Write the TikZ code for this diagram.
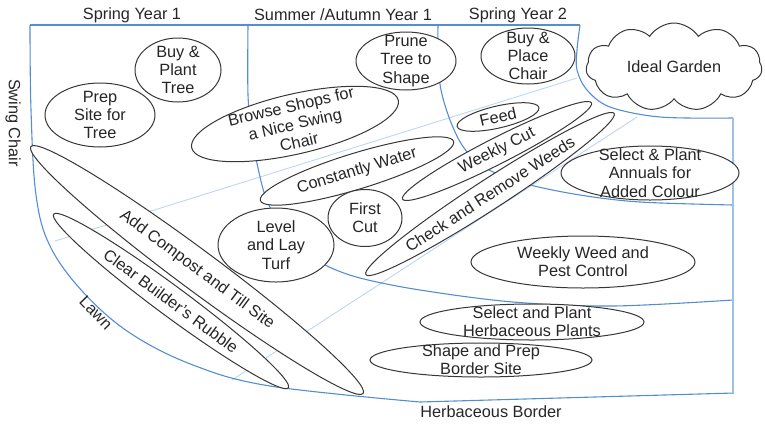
\documentclass[tikz,border=0pt]{standalone}
\usepackage{fontspec}
\setmainfont{Liberation Sans}
\usetikzlibrary{shapes.symbols}
\definecolor{zoneblue}{RGB}{84,141,212}
\definecolor{rayblue}{RGB}{190,214,240}
\definecolor{podgray}{RGB}{55,55,55}
\newcommand{\gfont}{\fontsize{16.3}{18.3}\selectfont}
\tikzset{
  zone/.style={draw=zoneblue, line width=1.1pt},
  ray/.style={draw=rayblue, line width=0.9pt},
  pod/.style={draw=podgray, fill=white, line width=1pt},
  lbl/.style={font=\gfont, align=center, inner sep=0pt, text=black!85}
}

\begin{document}
\begin{tikzpicture}[x=1pt, y=-1pt]
  \useasboundingbox (0,0) rectangle (765,424);
  % light rays
  \draw[ray] (55,241) -- (577,78);
  \draw[ray] (232,380) -- (637,117);
  % zone borders
  \draw[zone] (30,25) -- (580,25);
  \draw[zone] plot[smooth, tension=0.6] coordinates {(30,25) (31,110) (36,195) (50,246) (83,292) (130,333) (193,365) (270,386) (420,402)} -- (734,393);
  \draw[zone] plot[smooth, tension=0.55] coordinates {(248,25) (248,95) (252,135) (258,168) (266,198) (280,225) (300,248) (325,265) (360,278) (420,290) (513,302) (613,306) (733,300)};
  \draw[zone] plot[smooth, tension=0.55] coordinates {(438,25) (438,60) (441,90) (450,120) (462,145) (478,163) (500,175) (530,185) (580,195) (640,202) (733,205)};
  \draw[zone] plot[smooth, tension=0.55] coordinates {(580,25) (577,50) (577,70) (587,90) (610,107) (660,117) (733,118)};
  \draw[zone, draw=zoneblue!55] (733,118) -- (733,393);

  % headings
  \node[lbl] (spring1) at (132,15) {Spring Year 1};
  \node[lbl] (summer1) at (343,15) {Summer /Autumn Year 1};
  \node[lbl] (spring2) at (518,15) {Spring Year 2};
  \node[lbl, rotate=-90] (swing) at (13,123) {Swing Chair};
  \node[lbl, rotate=-46] (lawn) at (96,313) {Lawn};
  \node[lbl] (border) at (491,412) {Herbaceous Border};

  % spring year 1
  \draw[pod] (178,70) ellipse [x radius=43, y radius=32]
    node[lbl] (buytree) {Buy \&\\Plant\\Tree};
  \draw[pod] (100,115) ellipse [x radius=55, y radius=32]
    node[lbl] (prepsite) {Prep\\Site for\\Tree};
  \draw[pod, rotate around={-36.6:(197,270)}] (197,270) ellipse [x radius=207, y radius=20]
    node[lbl, rotate=-36.6] (compost) {Add Compost and Till Site};
  \draw[pod, rotate around={-36.5:(171,301)}] (171,301) ellipse [x radius=146, y radius=15]
    node[lbl, rotate=-36.5] (rubble) {Clear Builder's Rubble};

  % summer / autumn year 1
  \draw[pod, rotate around={13:(295,124)}] (295,124) ellipse [x radius=106, y radius=30]
    node[lbl, rotate=13] (browse) {Browse Shops for\\a Nice Swing\\Chair};
  \draw[pod] (406,61) ellipse [x radius=50, y radius=29]
    node[lbl] (prune) {Prune\\Tree to\\Shape};
  \draw[pod, rotate around={17:(357,171)}] (357,171) ellipse [x radius=101, y radius=18]
    node[lbl, rotate=17] (water) {Constantly Water};
  \draw[pod] (276,245) ellipse [x radius=58, y radius=37]
    node[lbl] (turf) {Level\\and Lay\\Turf};
  \draw[pod] (365,218) ellipse [x radius=37, y radius=28.5]
    node[lbl] (firstcut) {First\\Cut};

  % spring year 2
  \draw[pod] (528,56) ellipse [x radius=47, y radius=28]
    node[lbl] (placechair) {Buy \&\\Place\\Chair};
  \draw[pod, rotate around={13:(498,117)}] (498,117) ellipse [x radius=42, y radius=11]
    node[lbl, rotate=13] (feed) {Feed};
  \draw[pod, rotate around={27:(497,151)}] (497,151) ellipse [x radius=106, y radius=13]
    node[lbl, rotate=27] (weeklycut) {Weekly Cut};
  \draw[pod, rotate around={33:(490,194)}] (490,194) ellipse [x radius=148, y radius=15]
    node[lbl, rotate=33] (weeds) {Check and Remove Weeds};

  % border
  \draw[pod] (650,173) ellipse [x radius=89, y radius=27]
    node[lbl] (annuals) {Select \& Plant\\Annuals for\\Added Colour};
  \draw[pod] (583,262) ellipse [x radius=112, y radius=26]
    node[lbl] (pest) {Weekly Weed and\\Pest Control};
  \draw[pod] (532,322) ellipse [x radius=112, y radius=18]
    node[lbl] (herbplants) {Select and Plant\\Herbaceous Plants};
  \draw[pod] (481,360) ellipse [x radius=111, y radius=17]
    node[lbl] (borderprep) {Shape and Prep\\Border Site};

  % goal
  \node[pod, cloud, cloud puffs=11, cloud puff arc=115, aspect=2,
        minimum width=176pt, minimum height=88pt, lbl] (ideal) at (674,67) {Ideal Garden};
\end{tikzpicture}
\end{document}
